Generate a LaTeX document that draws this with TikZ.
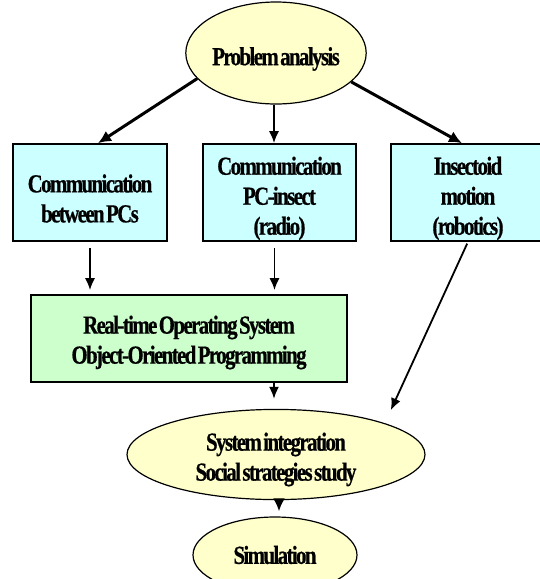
\documentclass[tikz,border=0pt]{standalone}
\usepackage{fontspec}
\newfontfamily\lblfont[FakeStretch=0.8,LetterSpace=-6,WordSpace=0.4,FakeBold=0.6]{Liberation Serif}
\usetikzlibrary{shapes.geometric,arrows.meta}

\definecolor{paleyellow}{HTML}{FFFFCC}
\definecolor{palecyan}{HTML}{CCFFFF}
\definecolor{palegreen}{HTML}{CCFFCC}

\newcommand\dropln{\rule{0pt}{30pt}}

\tikzset{
  txt/.style={font=\lblfont\bfseries\fontsize{26}{30}\selectfont, align=center, inner sep=0pt},
  oval/.style={txt, ellipse, draw, line width=1.2pt, fill=paleyellow},
  task/.style={txt, rectangle, draw, line width=1.6pt, fill=palecyan},
  thin arrow/.style={line width=1.8pt, -{Latex[length=12pt,width=10pt]}},
  thick arrow/.style={line width=3pt, -{Latex[length=13pt,width=12pt]}}
}

\begin{document}
\begin{tikzpicture}[x=1pt,y=-1pt]
    \useasboundingbox (0,0) rectangle (540,579);
    \clip (0,0) rectangle (540,579);
    % top
    \node[oval, minimum width=178pt, minimum height=102pt] (prob) at (276,53) {\dropln Problem analysis};
    % the three tasks
    \node[task, minimum width=154pt, minimum height=97pt] (compc) at (90,192.5) {\dropln Communication\\between PCs};
    \node[task, minimum width=153pt, minimum height=97pt] (comins) at (279.5,192.5) {\dropln Communication\\PC-insect\\(radio)};
    \node[task, minimum width=154pt, minimum height=97pt] (insect) at (468,192.5) {\dropln Insectoid\\motion\\(robotics)};
    %
    \node[txt, draw, line width=1.6pt, fill=palegreen, minimum width=316pt, minimum height=87pt] (rtos) at (189,338.5) {\rule{0pt}{26pt}Real-time Operating System\\Object-Oriented Programming};
    %
    \node[oval, minimum width=298pt, minimum height=69pt] (integ) at (276,454.5) {\rule{0pt}{28pt}System integration\\Social strategies study};
    \node[oval, minimum width=164pt, minimum height=76pt] (sim) at (275,555) {Simulation};
    % arrows
    \draw[thick arrow] (prob.198) -- ([xshift=8pt]compc.north);
    \draw[thin arrow] ([xshift=-2pt]prob.south) -- ([xshift=-2pt]prob.south |- comins.north);
    \draw[thick arrow] (prob.339) -- ([xshift=-6pt]insect.north);
    %
    \draw[thin arrow, shorten <=6pt, shorten >=4pt] (compc.south) -- (compc.south |- rtos.north);
    \draw[thin arrow, shorten <=6pt, shorten >=4pt] ([xshift=-5pt]comins.south) -- ([xshift=-5pt]comins.south |- rtos.north);
    %
    \draw[thin arrow, shorten >=10pt] ([xshift=-2pt]integ.north |- rtos.south) -- ([xshift=-2pt]integ.north);
    \draw[thin arrow, shorten <=2pt] (insect.south) -- ([shift={(9pt,12pt)}]integ.north east);
    %
    \draw[thick arrow, shorten >=5pt] ([xshift=3pt]integ.south) -- ([xshift=3pt]integ.south |- sim.north);
\end{tikzpicture}
\end{document}
